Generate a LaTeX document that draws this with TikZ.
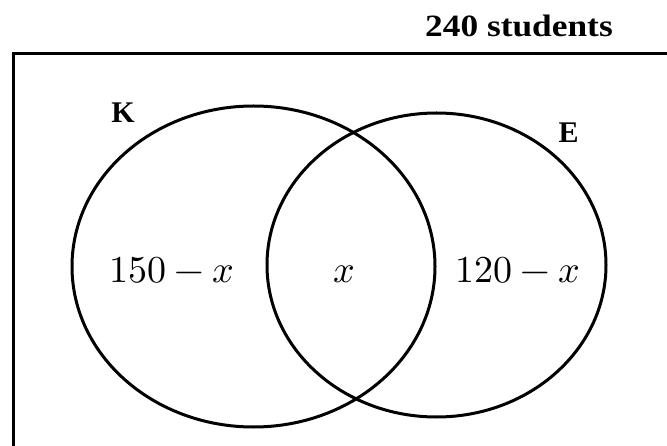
\documentclass[tikz,border=0pt]{standalone}
\usepackage{fontspec}
\usepackage{unicode-math}
\setmathfont{Latin Modern Math}
\newfontfamily\titlefont[FakeStretch=1.14]{Liberation Serif}
\newfontfamily\labelfont{Liberation Serif}
\begin{document}
\begin{tikzpicture}[x=1pt,y=-1pt,
  setline/.style={line width=3pt},
  framebox/.style={line width=3.3pt},
  setname/.style={inner sep=0pt,anchor=base,font=\labelfont\fontsize{30}{32}\selectfont\bfseries},
  region/.style={inner sep=0pt,anchor=base,font=\fontsize{38}{40}\selectfont},
  titletext/.style={inner sep=0pt,anchor=base,font=\titlefont\fontsize{31}{33}\selectfont\bfseries}]
\useasboundingbox (0,0) rectangle (667,446);
\clip (0,0) rectangle (667,446);
\fill[white] (0,0) rectangle (667,446);
% frame (cut off at right and bottom)
\coordinate (fbl) at (13.5,470);
\coordinate (ftl) at (13.5,53.5);
\coordinate (ftr) at (690,53.5);
\draw[framebox] (fbl) -- (ftl) -- (ftr);
\node[titletext] (title) at (519,37) {240 students};
% sets
\draw[setline] (253.5,266.5) ellipse [x radius=181.5, y radius=160.5];
\draw[setline] (436.5,265) ellipse [x radius=169.5, y radius=152];
\node[setname] (K) at (123,123) {K};
\node[setname] (E) at (568.5,143) {E};
\node[region] (konly) at (172,283) {$150-x$};
\node[region] (both) at (344.5,283) {$x$};
\node[region] (eonly) at (518,283) {$120-x$};
\end{tikzpicture}
\end{document}
